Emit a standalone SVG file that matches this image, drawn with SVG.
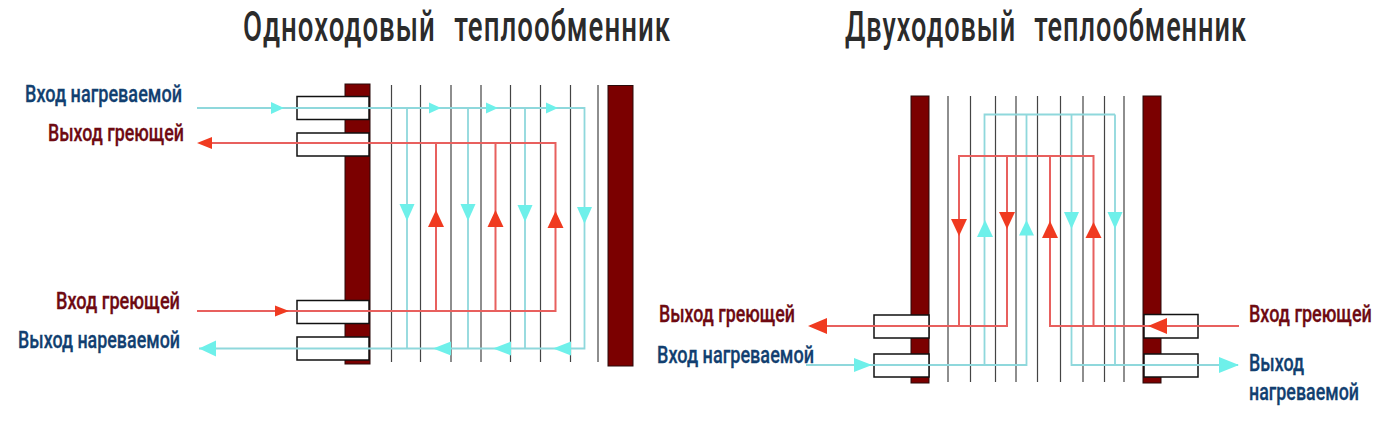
<svg xmlns="http://www.w3.org/2000/svg" width="1400" height="439" viewBox="0 0 1400 439">
<style>
text{font-family:"Roboto","Liberation Sans",sans-serif;font-weight:700}
.t{font-size:42px;font-weight:500;fill:#2b2b2b;word-spacing:16px;letter-spacing:1.500px}
.b{font-size:24.500px;fill:#123f70;font-weight:500;stroke:#123f70;stroke-width:.3}
.r{font-size:24.500px;fill:#6e0a12;font-weight:500;stroke:#6e0a12;stroke-width:.3}
.bar{fill:#7b0000;stroke:#2a0a0a;stroke-width:1}
.box{fill:#fff;stroke:#111;stroke-width:1.5}
.pl{stroke:#444;stroke-width:1.2;fill:none}
.c{stroke:#8fd8dc;stroke-width:1.8;fill:none}
.h{stroke:#e8605e;stroke-width:2;fill:none}
.ca{fill:#6ef0ea}
.ha{fill:#f03a20}
</style>
<rect width="1400" height="439" fill="#fff"/>
<g id="title-1"><text class="t" transform="translate(243 41) scale(.658 1)">Одноходовый теплообменник</text></g>
<g id="title-2"><text class="t" transform="translate(845 41) scale(.646 1)">Двуходовый теплообменник</text></g>

<g id="exchanger-1">
<rect class="bar" x="345" y="84" width="25" height="280"/>
<rect class="bar" x="608" y="85.500" width="25" height="280.500"/>
<rect class="box" x="297" y="96.500" width="72" height="23"/>
<rect class="box" x="297" y="133" width="72" height="23"/>
<rect class="box" x="297" y="300.500" width="72" height="23"/>
<rect class="box" x="297" y="337" width="72" height="23"/>
<path class="pl" d="M391.500 85V362M420.500 85V362M451 85V362M481 85V362M510.500 85V362M540.500 85V362M570.500 85V362M598 85V362"/>
</g>

<g id="exchanger-2">
<rect class="bar" x="911" y="96" width="18" height="287"/>
<rect class="bar" x="1143" y="96" width="18" height="287"/>
<rect class="box" x="874" y="315" width="55" height="23"/>
<rect class="box" x="874" y="354" width="55" height="23"/>
<rect class="box" x="1144" y="314.500" width="54" height="23.500"/>
<rect class="box" x="1144" y="354" width="54" height="23"/>
<path class="pl" d="M948 96V382M970.500 96V382M995.500 96V382M1016 96V382M1037.500 96V382M1060.500 96V382M1083 96V382M1104.500 96V382M1124 96V382"/>
</g>

<g id="connectors">
<path class="c" d="M197 108H584.500V348.500H199M407 108V348.500M468 108V348.500M525 108V348.500"/>
<path class="h" d="M200 143H555.500V311H197M436 143V311M495.500 143V311"/>
<polygon class="ca" points="284,108 271,102 271,114"/>
<polygon class="ca" points="441,108 429,102.500 429,113.500"/>
<polygon class="ca" points="498,108 486,102.500 486,113.500"/>
<polygon class="ca" points="558,108 546,102.500 546,113.500"/>
<polygon class="ha" points="197,143 212,137 212,149"/>
<polygon class="ha" points="289,311 275,305.500 275,316.500"/>
<polygon class="ca" points="199,348.500 216,340.500 216,356.500"/>
<polygon class="ca" points="433,348.500 451,341.500 451,355.500"/>
<polygon class="ca" points="493,348.500 511,341.500 511,355.500"/>
<polygon class="ca" points="553,348.500 571,341.500 571,355.500"/>
<polygon class="ca" points="399.500,204 414.500,204 407,221"/>
<polygon class="ca" points="460.500,204 475.500,204 468,221"/>
<polygon class="ca" points="517.500,205 532.500,205 525,222"/>
<polygon class="ca" points="577,207 592,207 584.500,224"/>
<polygon class="ha" points="436,210 428,227 444,227"/>
<polygon class="ha" points="495.500,210 487.500,227 503.500,227"/>
<polygon class="ha" points="555.500,211 547.500,228 563.500,228"/>

<path class="c" d="M806 365H1026.500V114.500H984.500V365M1115 114.500H1026.500M1115 114.500V365H1071.500V114.500M1115 365H1238"/>
<path class="h" d="M810 326H1007V156H959V326M1007 156H1093.500V326H1050V156M1093.500 326H1239"/>
<polygon class="ha" points="951,219 967,219 959,236"/>
<polygon class="ca" points="985,220 977,237 993,237"/>
<polygon class="ha" points="999,212 1015,212 1007,229"/>
<polygon class="ca" points="1026.500,220 1019,235.500 1034,235.500"/>
<polygon class="ha" points="1050,221 1042,238 1058,238"/>
<polygon class="ca" points="1064,212 1079,212 1071.500,229"/>
<polygon class="ha" points="1093.500,222 1085.500,238 1101.500,238"/>
<polygon class="ca" points="1107.500,212 1122.500,212 1115,229"/>
<polygon class="ha" points="808,326 827,318 827,334"/>
<polygon class="ca" points="872,365 854,358 854,372"/>
<polygon class="ha" points="1148,326 1167,318 1167,334"/>
<polygon class="ca" points="1239,365 1219,357 1219,373"/>
</g>

<g id="labels">
<text class="b" x="25" y="102" textLength="157" lengthAdjust="spacingAndGlyphs">Вход нагреваемой</text>
<text class="r" x="48" y="141" textLength="136" lengthAdjust="spacingAndGlyphs">Выход греющей</text>
<text class="r" x="56" y="309" textLength="124" lengthAdjust="spacingAndGlyphs">Вход греющей</text>
<text class="b" x="18" y="348" textLength="162" lengthAdjust="spacingAndGlyphs">Выход нареваемой</text>
<text class="r" x="659" y="322" textLength="136" lengthAdjust="spacingAndGlyphs">Выход греющей</text>
<text class="b" x="657" y="363" textLength="157" lengthAdjust="spacingAndGlyphs">Вход нагреваемой</text>
<text class="r" transform="translate(1249 322) scale(.735 1)">Вход греющей</text>
<text class="b" x="1249" y="371" textLength="55" lengthAdjust="spacingAndGlyphs">Выход</text>
<text class="b" x="1249" y="400" textLength="110" lengthAdjust="spacingAndGlyphs">нагреваемой</text>
</g>
</svg>
